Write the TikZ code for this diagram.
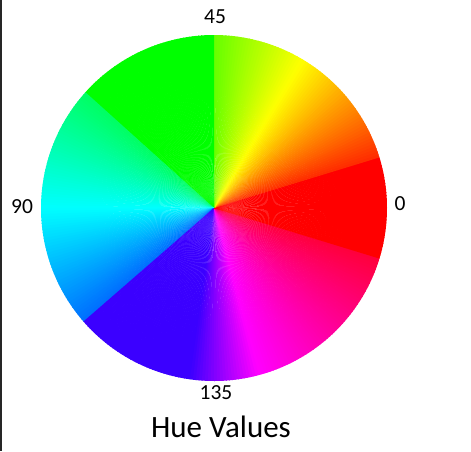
\documentclass[tikz,border=0pt]{standalone}
\usepackage{fontspec}
\setmainfont{Carlito}
\usepackage{tikz}

\begin{document}
\begin{tikzpicture}[x=1pt, y=-1pt,
  lbl/.style={font=\fontsize{21.5}{24}\selectfont, inner sep=0pt},
  ttl/.style={font=\fontsize{31}{36}\selectfont, inner sep=0pt}
]
  \useasboundingbox (0,0) rectangle (471,451);

  %% left edge line
  \draw[line width=1.6pt, black!85] (0.8,0) -- (0.8,451);

  %% hue wheel: angle segments, hue interpolated, one wedge per degree
  \coordinate (c) at (214,208);
  \foreach \s/\e/\ha/\hb in {0/17/0/0, 17/59/10/60, 59/90/60/96, 90/138/120/120,
      138/180/143/180, 180/221/180/214, 221/262/254/254, 262/285/254/300,
      285/343/300/346, 343/360/0/0}{
    \pgfmathtruncatemacro\ee{\e-1}
    \foreach \d in {\s,...,\ee}{
      \pgfmathsetmacro\hh{(\ha+(\hb-\ha)*(\d+0.5-\s)/(\e-\s))/360}
      \definecolor{wheel}{hsb}{\hh,1,1}
      \fill[wheel] (c) -- ++(-\d:173) arc[start angle=-\d, end angle=-\d-1.25, radius=173] -- cycle;
    }
  }

  %% labels
  \node[lbl] (h45)  at (215,17)  {45};
  \node[lbl] (h0)   at (400,204) {0};
  \node[lbl] (h90)  at (22,207)  {90};
  \node[lbl] (h135) at (216,393) {135};
  \node[ttl] (title) at (221,427) {Hue Values};
\end{tikzpicture}
\end{document}
